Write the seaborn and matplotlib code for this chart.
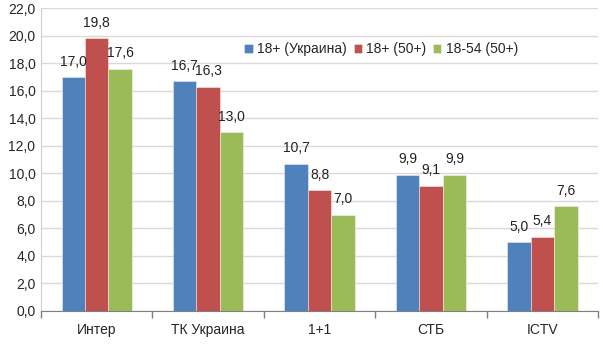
import numpy as np
import pandas as pd
import matplotlib
matplotlib.use('Agg')
import matplotlib.pyplot as plt
from matplotlib.ticker import FuncFormatter, FixedLocator
import seaborn as sns

# Данные
kanaly = ['Интер', 'ТК Украина', '1+1', 'СТБ', 'ICTV']
serii = ['18+ (Украина)', '18+ (50+)', '18-54 (50+)']
ukraina_18 = [17.0, 16.7, 10.7, 9.9, 5.0]
vozrast_18_50 = [19.8, 16.3, 8.8, 9.1, 5.4]
vozrast_18_54 = [17.6, 13.0, 7.0, 9.9, 7.6]

df = pd.DataFrame({
    'kanal': kanaly * 3,
    'seriya': [serii[0]] * 5 + [serii[1]] * 5 + [serii[2]] * 5,
    'znachenie': ukraina_18 + vozrast_18_50 + vozrast_18_54,
})

cveta = ['#4F81BD', '#C0504D', '#9BBB59']

sns.set_style('white')
plt.rcParams['font.family'] = ['Liberation Sans', 'DejaVu Sans']

fig = plt.figure(figsize=(6.03, 3.52), dpi=100)
ax = fig.add_axes([0.068, 0.1165, 0.924, 0.8605])

sns.barplot(data=df, x='kanal', y='znachenie', hue='seriya', palette=cveta,
            saturation=1, width=0.63, gap=0, ax=ax, linewidth=0.6,
            edgecolor='#FFFFFF80')

# Подписи значений
for c in ax.containers:
    ax.bar_label(c, labels=[f'{v:.1f}'.replace('.', ',') for v in c.datavalues],
                 padding=6, fontsize=10, color='#222222')

ax.set_ylim(0, 22)
ax.set_yticks(np.arange(0, 23, 2))
ax.yaxis.set_major_formatter(FuncFormatter(lambda v, p: f'{v:.1f}'.replace('.', ',')))
ax.grid(axis='y', color='#D9D9D9', linewidth=1)
ax.set_axisbelow(True)
ax.set_xlim(-0.5, 4.5)
ax.set_xlabel('')
ax.set_ylabel('')

# Деления по границам категорий
ax.xaxis.set_minor_locator(FixedLocator(np.arange(-0.5, 5, 1)))
ax.tick_params(axis='x', which='minor', length=5, color='#808080', width=1, direction='out', bottom=True)
ax.tick_params(axis='x', which='major', length=0, pad=9, labelsize=10)
ax.tick_params(axis='y', length=0, pad=4, labelsize=10)

for s in ['top', 'right']:
    ax.spines[s].set_visible(False)
ax.spines['left'].set_color('#D0D0D0')
ax.spines['bottom'].set_color('#808080')

ax.legend(loc='upper left', bbox_to_anchor=(0.355, 0.905), ncol=3, frameon=False,
          handlelength=0.6, handleheight=0.6, handletextpad=0.3, columnspacing=0.5,
          fontsize=10, borderaxespad=0)

fig.savefig('out.png', dpi=100)
